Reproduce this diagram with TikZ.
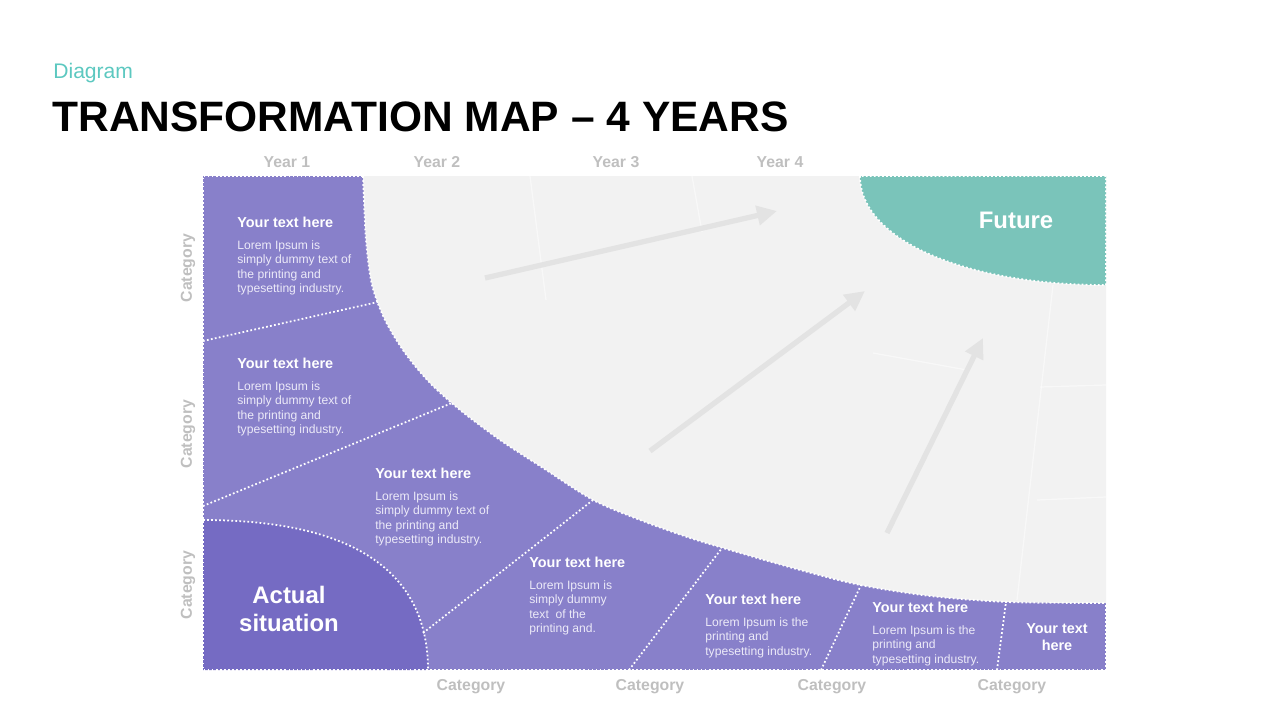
\documentclass[tikz,border=0pt]{standalone}
\usepackage{fontspec}
\setmainfont{Liberation Sans}
\usetikzlibrary{arrows.meta,positioning}
\definecolor{purc}{HTML}{8880CA}
\definecolor{actc}{HTML}{756BC3}
\definecolor{futc}{HTML}{7AC4BA}
\definecolor{fieldc}{HTML}{F2F2F2}
\definecolor{arrc}{HTML}{E3E3E3}
\definecolor{lblc}{HTML}{BFBFBF}
\definecolor{subc}{HTML}{5CC8C0}
\definecolor{bodyc}{HTML}{ECEAF8}
\tikzset{
  sep/.style={white,line width=1pt,dash pattern=on 1pt off 1.3pt},
  grid/.style={white,line width=0.7pt,opacity=0.5},
  ar/.style={-{Triangle[length=4mm,width=3.8mm]},line width=3pt,arrc},
  lbl/.style={text=lblc,inner sep=1pt,font=\bfseries\fontsize{9}{10}\selectfont},
  blk/.style={anchor=north west,inner sep=0pt,align=left,text=bodyc,font=\fontsize{6.9}{8.1}\selectfont},
  big/.style={text=white,align=center,inner sep=0pt,font=\bfseries\fontsize{13.6}{16.4}\selectfont}
}
\newcommand\yth{{\color{white}\bfseries\fontsize{8.2}{9}\selectfont Your text here}}
\newcommand\edgepts{(363,176) (366,240) (372,285) (385,320) (405,353) (430,383) (460,410) (500,440) (543,468) (593,500) (640,520) (690,538) (740,553) (800,570) (860,585) (930,596) (1007,602) (1106,603)}

\begin{document}
\begin{tikzpicture}[x=0.02cm,y=-0.02cm]
\useasboundingbox (0,0) rectangle (1280,720);
% heading
\node[anchor=base west,inner sep=0pt,text=subc,font=\fontsize{12}{14}\selectfont] (sub) at (53,78) {Diagram};
\node[anchor=base west,inner sep=0pt,font=\bfseries\fontsize{24.2}{28}\selectfont] (ttl) at (52,131) {TRANSFORMATION MAP -- 4 YEARS};

% map field
\fill[purc] (203,176) rectangle (1106,670);
\fill[fieldc] plot[smooth,tension=0.5] coordinates {\edgepts} -- (1106,176) -- cycle;
\draw[grid] (530,176) -- (546,300);
\draw[grid] (692,176) -- (702,232);
\draw[grid] (873,353) -- (967,370);
\draw[grid] (1040,387) -- (1106,385);
\draw[grid] (1037,500) -- (1106,497);
\draw[grid] (1053,285) -- (1017,600);
\draw[sep] plot[smooth,tension=0.5] coordinates {\edgepts};
\fill[futc] (860,176) .. controls (860,240) and (965,285) .. (1106,285) -- (1106,176) -- cycle;
\draw[sep] (860,176) .. controls (860,240) and (965,285) .. (1106,285) -- (1106,176) -- cycle;
\fill[actc] (203,520) .. controls (335,520) and (428,560) .. (428,670) -- (203,670) -- cycle;
\draw[sep] (203,520) .. controls (335,520) and (428,560) .. (428,670);
\draw[sep] (363,176) -- (203,176) -- (203,670) -- (1106,670) -- (1106,603);

% separators
\coordinate (s1a) at (203,341); \coordinate (s1b) at (378,302);
\coordinate (s2a) at (203,506); \coordinate (s2b) at (452,403);
\coordinate (s3a) at (423,633); \coordinate (s3b) at (593,500);
\coordinate (s4a) at (629,670); \coordinate (s4b) at (722,548);
\coordinate (s5a) at (821,670); \coordinate (s5b) at (861,585);
\coordinate (s6a) at (997,670); \coordinate (s6b) at (1006,602);
\foreach \i in {1,...,6} \draw[sep] (s\i a) -- (s\i b);

% arrows
\coordinate (a1s) at (485,278); \coordinate (a1e) at (777,211);
\coordinate (a2s) at (650,451); \coordinate (a2e) at (865,291);
\coordinate (a3s) at (887,533); \coordinate (a3e) at (983,338);
\foreach \i in {1,2,3} \draw[ar] (a\i s) -- (a\i e);

% axis labels
\node[lbl] (y1) at (287,162) {Year 1};
\node[lbl] (y2) at (437,162) {Year 2};
\node[lbl] (y3) at (616,162) {Year 3};
\node[lbl] (y4) at (780,162) {Year 4};
\node[lbl,rotate=90] (c1) at (188,268) {Category};
\node[lbl,rotate=90] (c2) at (188,434) {Category};
\node[lbl,rotate=90] (c3) at (188,585) {Category};
\node[lbl] (c4) at (471,687) {Category};
\node[lbl] (c5) at (650,687) {Category};
\node[lbl] (c6) at (832,687) {Category};
\node[lbl] (c7) at (1012,687) {Category};

% text blocks
\node[blk] (t1) at (237,217) {\yth\\[4.3pt]Lorem Ipsum is\\simply dummy text of\\the printing and\\typesetting industry.};
\node[blk] (t2) at (237,358) {\yth\\[4.3pt]Lorem Ipsum is\\simply dummy text of\\the printing and\\typesetting industry.};
\node[blk] (t3) at (375,468) {\yth\\[4.3pt]Lorem Ipsum is\\simply dummy text of\\the printing and\\typesetting industry.};
\node[blk] (t4) at (529,557) {\yth\\[4.3pt]Lorem Ipsum is\\simply dummy\\text\ \ of the\\printing and.};
\node[blk] (t5) at (705,594) {\yth\\[4.3pt]Lorem Ipsum is the\\printing and\\typesetting industry.};
\node[blk] (t6) at (872,602) {\yth\\[4.3pt]Lorem Ipsum is the\\printing and\\typesetting industry.};
\node[text=white,align=center,inner sep=0pt,font=\bfseries\fontsize{8.2}{9.6}\selectfont] (t7) at (1057,637) {Your text\\here};
\node[big] (act) at (289,609) {Actual\\situation};
\node[big] (fut) at (1016,220) {Future};
\end{tikzpicture}
\end{document}
